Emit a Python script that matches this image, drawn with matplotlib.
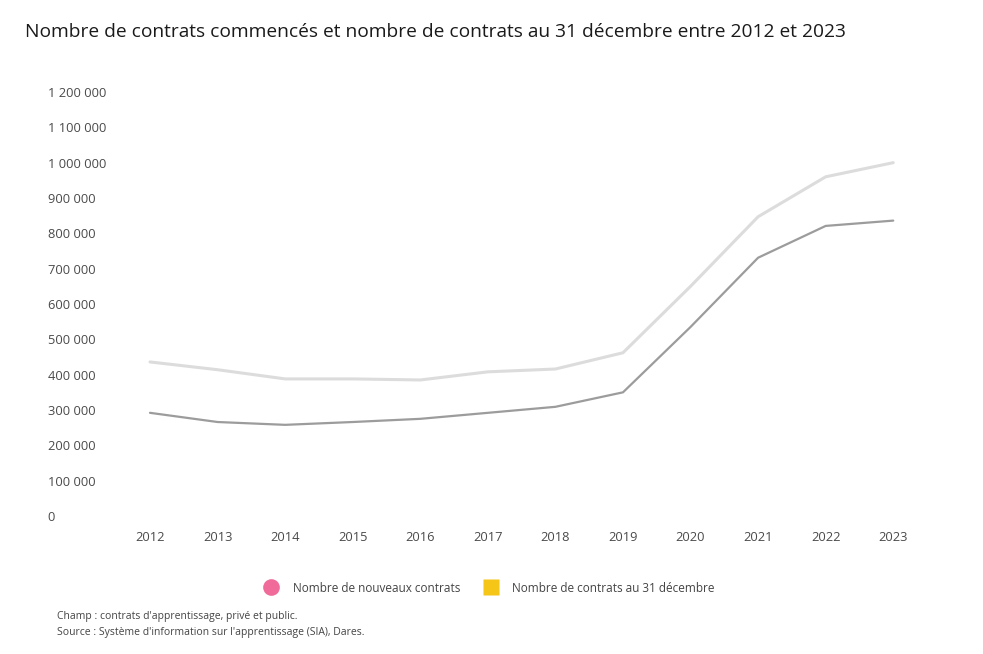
import matplotlib.pyplot as plt
from matplotlib.lines import Line2D

plt.rcParams['font.family'] = ['Open Sans', 'DejaVu Sans']

years = [2012, 2013, 2014, 2015, 2016, 2017, 2018, 2019, 2020, 2021, 2022, 2023]
# nombre de nouveaux contrats
nouveaux = [292000, 266000, 258000, 266000, 275000, 292000, 309000, 350000, 535000, 731000, 821000, 836000]
# nombre de contrats au 31 decembre
au_31_dec = [436000, 414000, 388000, 388000, 385000, 408000, 416000, 462000, 650000, 847000, 960000, 1000000]

yticks = [0, 100000, 200000, 300000, 400000, 500000, 600000, 700000, 800000, 900000, 1000000, 1100000, 1200000]
ytick_labels = ['0', '100 000', '200 000', '300 000', '400 000', '500 000', '600 000',
                '700 000', '800 000', '900 000', '1 000 000', '1 100 000', '1 200 000']

fig = plt.figure(figsize=(9.83, 6.54), dpi=100)
ax = fig.add_axes([120 / 983, 138 / 654, 805 / 983, 424 / 654])

ax.plot(years, au_31_dec, color='#dcdcdc', lw=2.2, solid_capstyle='round')
ax.plot(years, nouveaux, color='#9c9c9c', lw=1.6, solid_capstyle='round')

ax.set_xlim(2011.556, 2023.47)
ax.set_ylim(0, 1200000)
ax.set_xticks(years)
ax.set_xticklabels([str(y) for y in years], fontsize=9.3, color='#4a4a4a')
ax.set_yticks(yticks)
ax.set_yticklabels(ytick_labels, fontsize=9.3, color='#4a4a4a')
for lab in ax.get_yticklabels():
    lab.set_horizontalalignment('left')
ax.tick_params(axis='y', length=0, pad=52)
ax.tick_params(axis='x', length=0, pad=11)
for s in ax.spines.values():
    s.set_visible(False)

fig.text(25 / 983, 1 - 32 / 654, 'Nombre de contrats commencés et nombre de contrats au 31 décembre entre 2012 et 2023',
         fontsize=13.8, color='#1a1a1a', va='center', ha='left')

handles = [
    Line2D([], [], ls='none', marker='o', markersize=12, markerfacecolor='#f06a9a', markeredgecolor='none'),
    Line2D([], [], ls='none', marker='s', markersize=11, markerfacecolor='#f5c518', markeredgecolor='none'),
]
fig.legend(handles, ['Nombre de nouveaux contrats', 'Nombre de contrats au 31 décembre'],
           loc='center', bbox_to_anchor=(487 / 983, 1 - 588 / 654), ncol=2, frameon=False,
           fontsize=8.5, handletextpad=0.8, columnspacing=1.6, labelcolor='#444444')

fig.text(57 / 983, 1 - 617 / 654, "Champ : contrats d'apprentissage, privé et public.",
         fontsize=7.5, color='#444444', va='center')
fig.text(57 / 983, 1 - 633 / 654, "Source : Système d'information sur l'apprentissage (SIA), Dares.",
         fontsize=7.5, color='#444444', va='center')

fig.savefig('out.png', dpi=100, facecolor='white')
